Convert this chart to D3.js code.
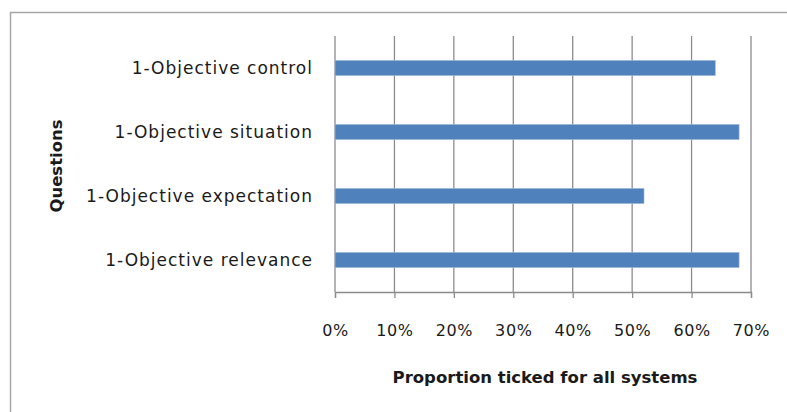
<!DOCTYPE html>
<html>
<head>
<meta charset="utf-8">
<script src="https://cdn.jsdelivr.net/npm/d3@7"></script>
<style>
  body { margin: 0; background: #fff; }
  text { font-family: "DejaVu Sans", "Liberation Sans", sans-serif; fill: #1a1a1a; }
</style>
</head>
<body>
<div id="chart"></div>
<script>
// categories top to bottom, values as proportions
var questions = ["1-Objective control", "1-Objective situation", "1-Objective expectation", "1-Objective relevance"];
var proportions = [0.64, 0.68, 0.52, 0.68];
var xTicks = [0, 0.1, 0.2, 0.3, 0.4, 0.5, 0.6, 0.7];

var width = 787, height = 412;
var margin = {left: 335, right: 36, top: 36, bottom: 120};

var data = questions.map(function(q, i) { return {tipo: q, valor: proportions[i]}; });

var svg = d3.select("#chart").append("svg")
    .attr("width", width)
    .attr("height", height);

// outer frame (only top and left edges are inside the picture)
svg.append("path")
    .attr("d", "M10.5," + height + "V12.5H" + width)
    .style("fill", "none")
    .style("stroke", "#a6a6a6")
    .style("stroke-width", 1.5);

var x = d3.scaleLinear()
    .domain([0, 0.7])
    .range([margin.left, width - margin.right]);

var y = d3.scaleBand()
    .domain(questions)
    .range([margin.top, height - margin.bottom])
    .paddingInner(0.76)
    .paddingOuter(0.38);

// gridlines
svg.append("g")
    .selectAll("line")
    .data(xTicks)
    .enter().append("line")
    .attr("x1", function(d) { return x(d); })
    .attr("x2", function(d) { return x(d); })
    .attr("y1", margin.top)
    .attr("y2", height - margin.bottom)
    .style("stroke", "#8c8c8c")
    .style("stroke-width", 1.3);

// bars
svg.append("g")
    .selectAll("rect")
    .data(data)
    .enter().append("rect")
    .attr("x", x(0))
    .attr("y", function(d) { return y(d.tipo); })
    .attr("width", function(d) { return x(d.valor) - x(0); })
    .attr("height", y.bandwidth())
    .style("fill", "#4f81bd")
    .style("stroke", "#a9c1e0")
    .style("stroke-width", 0.6);

// x axis
var xAxis = svg.append("g")
    .attr("transform", "translate(0," + (height - margin.bottom) + ")")
    .call(d3.axisBottom(x).tickValues(xTicks).tickFormat(d3.format(".0%")).tickSize(6).tickPadding(27));
xAxis.select(".domain").style("stroke", "#8c8c8c").style("stroke-width", 1.3);
xAxis.selectAll(".tick line").style("stroke", "#8c8c8c").style("stroke-width", 1.3);
xAxis.selectAll("text")
    .style("font-size", "16px")
    .style("letter-spacing", "0.6px")
    .style("fill", "#1a1a1a")
    .style("font-family", "'DejaVu Sans', sans-serif");

// category labels
svg.append("g")
    .selectAll("text")
    .data(questions)
    .enter().append("text")
    .attr("x", 313)
    .attr("y", function(d) { return y(d) + y.bandwidth() / 2; })
    .attr("dy", "0.35em")
    .attr("text-anchor", "end")
    .style("font-size", "17px")
    .style("letter-spacing", "1px")
    .text(function(d) { return d; });

// axis titles
svg.append("text")
    .attr("x", 545)
    .attr("y", 377)
    .attr("dy", "0.35em")
    .attr("text-anchor", "middle")
    .style("font-size", "16.5px")
    .style("font-weight", "bold")
    .text("Proportion ticked for all systems");

svg.append("text")
    .attr("transform", "translate(56,166) rotate(-90)")
    .attr("dy", "0.35em")
    .attr("text-anchor", "middle")
    .style("font-size", "16.5px")
    .style("font-weight", "bold")
    .text("Questions");
</script>
</body>
</html>
